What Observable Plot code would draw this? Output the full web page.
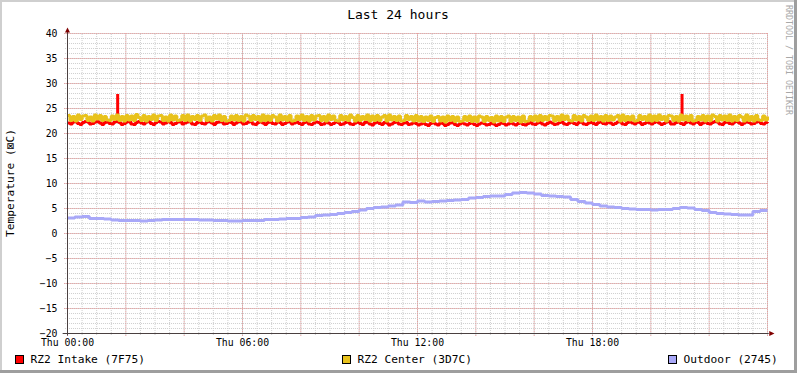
<!DOCTYPE html>
<html><head><meta charset="utf-8">
<script src="https://cdn.jsdelivr.net/npm/d3@7"></script>
<script src="https://cdn.jsdelivr.net/npm/@observablehq/plot@0.6"></script>
<style>
html,body{margin:0;padding:0;background:#fff;}
#wrap{position:relative;width:797px;height:373px;overflow:hidden;background:#fff;}
#wrap svg{position:absolute;left:0;top:0;}
</style></head>
<body><div id="wrap"></div>
<script>
// ---- data ----
const titleText = "Last 24 hours";
const yLabelText = "Temperature (\u22A0C)";
const watermarkText = "RRDTOOL / TOBI OETIKER";
const seriesNames = ["RZ2 Intake (7F75)", "RZ2 Center (3D7C)", "Outdoor (2745)"];
const seriesColors = ["#ff0000", "#e8c21c", "#a8a8f8"];

const xTickHours = [0, 6, 12, 18];
const xTickLabels = ["Thu 00:00", "Thu 06:00", "Thu 12:00", "Thu 18:00"];
const yTickValues = [-20, -15, -10, -5, 0, 5, 10, 15, 20, 25, 30, 35, 40];

// 5-minute samples, hour 0 .. 24
const intakeValues = [
 22.1,21.9,22.3,22.4,22.0,21.8,22.2,22.4,22.3,21.9,22.0,22.3,22.4,22.1,21.8,22.2,22.4,22.0,21.9,22.3,22.4,22.2,21.8,22.0,
 22.3,22.4,21.9,21.8,22.2,22.4,22.1,21.9,22.3,22.5,22.0,21.8,22.2,22.4,22.3,21.9,22.1,22.4,22.2,21.8,22.0,22.3,22.4,21.9,
 22.1,22.3,22.4,21.9,21.8,22.2,22.4,22.0,21.9,22.3,22.4,22.1,21.8,22.2,22.3,22.4,21.9,22.0,22.3,22.2,21.8,22.1,22.4,22.3,
 21.9,22.0,22.3,22.4,21.9,21.8,22.2,22.3,22.1,21.8,22.2,22.4,22.0,21.9,22.3,22.2,21.8,22.0,22.3,22.4,21.9,22.1,22.3,22.0,
 21.8,22.2,22.3,21.9,21.8,22.1,22.3,22.2,21.8,21.9,22.3,22.1,21.8,22.0,22.3,22.2,21.8,21.9,22.2,22.3,21.9,21.8,22.1,22.3,
 22.0,21.8,22.2,22.3,21.9,21.7,22.1,22.3,22.0,21.8,22.2,22.1,21.7,21.9,22.2,22.3,21.9,21.8,22.1,22.2,21.8,21.9,22.2,22.0,
 21.7,21.9,22.1,21.8,21.6,22.0,22.2,21.9,21.7,22.1,22.0,21.6,21.8,22.1,22.2,21.8,21.6,21.9,22.1,21.9,21.7,22.0,22.1,21.8,
 21.6,21.9,22.1,22.0,21.7,21.8,22.1,21.9,21.6,21.8,22.1,22.0,21.7,21.9,22.2,21.9,21.7,22.0,22.1,21.8,21.7,22.0,22.2,21.9,
 21.8,22.1,22.2,21.9,21.7,22.0,22.3,22.1,21.8,21.9,22.2,22.3,21.9,21.8,22.1,22.3,22.0,21.8,22.2,22.3,21.9,21.8,22.1,22.2,
 22.0,21.8,22.2,22.3,22.0,21.9,22.3,22.1,21.8,22.0,22.3,22.4,21.9,21.8,22.2,22.3,22.1,21.9,22.3,22.2,21.8,22.0,22.3,22.1,
 21.9,22.2,22.4,22.1,21.8,22.0,22.3,22.4,21.9,21.9,22.2,22.3,22.0,21.8,22.2,22.4,22.1,21.9,22.3,22.2,21.8,22.1,22.3,22.0,
 21.9,22.2,22.4,22.3,21.9,21.8,22.2,22.3,22.0,21.9,22.3,22.4,22.1,21.8,22.1,22.3,22.2,21.9,22.0,22.3,22.4,22.0,21.9,22.2,
 22.3
];
const centerValues = [
 23.6,22.6,23.4,22.5,23.7,22.8,23.5,23.6,22.6,23.3,22.5,23.7,22.9,23.6,22.6,23.4,22.7,22.6,23.5,22.8,23.7,22.6,23.4,22.5,
 23.6,22.7,23.5,22.6,23.8,23.2,22.6,23.6,22.5,23.4,22.8,23.7,22.6,23.5,23.6,22.6,23.3,22.5,23.7,22.7,23.5,22.6,22.7,23.6,
 22.6,23.7,22.5,23.4,22.8,23.6,22.6,23.5,23.7,22.6,23.3,22.5,23.6,22.9,23.7,22.6,23.4,22.5,22.6,23.5,22.7,23.6,22.6,23.4,
 22.5,23.7,23.5,22.6,23.6,22.8,23.4,22.5,23.7,22.6,23.5,22.6,23.6,23.3,22.5,23.7,22.7,23.4,22.6,23.6,22.5,22.6,23.5,22.8,
 23.7,22.6,23.4,22.5,23.6,22.7,23.5,23.6,22.6,23.4,22.5,23.7,22.8,23.5,22.6,22.5,23.6,22.7,23.4,22.6,23.7,23.2,22.5,23.6,
 22.6,23.4,22.8,23.7,22.5,23.5,22.6,23.6,22.6,23.3,23.6,22.5,23.7,22.7,23.4,22.6,23.5,22.5,22.6,23.6,22.8,23.4,22.5,23.6,
 22.5,23.4,22.4,23.3,22.6,23.5,22.4,23.2,23.4,22.5,23.3,22.3,23.5,22.6,23.4,22.4,23.3,22.4,22.5,23.4,22.6,23.5,22.4,23.3,
 22.4,23.5,23.3,22.4,23.4,22.6,23.2,22.3,23.5,22.5,23.4,22.4,23.3,23.5,22.4,23.4,22.6,23.3,22.3,23.5,22.4,22.5,23.4,22.6,
 23.5,22.5,23.6,22.6,23.4,22.7,23.6,23.5,22.5,23.4,22.6,23.7,22.8,23.5,22.6,22.5,23.6,22.7,23.4,22.5,23.6,23.3,22.6,23.5,
 22.6,23.7,22.7,23.4,22.5,23.6,22.6,23.5,22.7,23.3,23.6,22.5,23.7,22.6,23.4,22.7,23.5,22.5,22.6,23.6,22.8,23.4,22.6,23.7,
 22.5,23.5,22.6,23.7,22.8,23.4,22.5,23.6,23.5,22.6,23.4,22.5,23.7,22.7,23.5,22.6,23.6,22.5,22.6,23.4,22.7,23.6,22.5,23.5,
 22.6,23.7,23.4,22.5,23.6,22.7,23.5,22.6,23.7,22.5,23.4,22.6,23.6,23.3,22.5,23.7,22.6,23.4,22.5,23.6,22.7,22.6,23.5,22.7,
 23.4
];
const intakeSpikeHours = [1.72, 21.07];
const intakeSpikePeaks = [27.8, 27.8];
const intakeSpikeBase = [22.6, 22.6];

// 15-minute samples, hour 0 .. 24
const outdoorValues = [
 3.1, 3.3, 3.4, 3.0, 3.0, 2.9, 2.7, 2.6, 2.6, 2.6, 2.5, 2.6,
 2.7, 2.8, 2.8, 2.8, 2.8, 2.8, 2.7, 2.7, 2.6, 2.6, 2.5, 2.5,
 2.6, 2.6, 2.6, 2.8, 2.8, 2.9, 3.0, 3.0, 3.2, 3.3, 3.6, 3.7,
 3.8, 4.0, 4.2, 4.4, 4.7, 5.0, 5.2, 5.3, 5.5, 5.7, 6.3, 6.2,
 6.5, 6.3, 6.4, 6.5, 6.6, 6.7, 6.8, 7.1, 7.2, 7.4, 7.5, 7.5,
 7.8, 8.1, 8.2, 8.1, 7.9, 7.6, 7.5, 7.4, 7.3, 6.8, 6.4, 6.1,
 5.8, 5.5, 5.3, 5.2, 5.0, 4.9, 4.8, 4.8, 4.7, 4.8, 4.8, 5.0,
 5.2, 5.1, 4.8, 4.6, 4.2, 4.0, 3.9, 3.8, 3.7, 3.7, 4.4, 4.6, 4.6
];

// ---- build tables ----
const fineStep = 24 / (intakeValues.length - 1);
const outStep = 24 / (outdoorValues.length - 1);
const intakeData = intakeValues.map((v, i) => ({h: i * fineStep, v}));
const centerData = centerValues.map((v, i) => ({h: i * fineStep, v}));
const outdoorData = outdoorValues.map((v, i) => ({h: i * outStep, v}));
const spikeData = intakeSpikeHours.map((h, i) => ({h, base: intakeSpikeBase[i], peak: intakeSpikePeaks[i]}));

const minorX = d3.range(0, 24.01, 0.5);
const majorX = d3.range(0, 24.01, 2);
const minorY = d3.range(-20, 40.01, 1);
const majorY = yTickValues;

const arrowUp = {draw(c, size) { const r = Math.sqrt(size / Math.PI); c.moveTo(0, -r); c.lineTo(r * 0.95, r); c.lineTo(-r * 0.95, r); c.closePath(); }};
const arrowRight = {draw(c, size) { const r = Math.sqrt(size / Math.PI); c.moveTo(r, 0); c.lineTo(-r, r * 0.95); c.lineTo(-r, -r * 0.95); c.closePath(); }};

const minorStyle = {stroke: "#cfcfcf", strokeDasharray: "1,1"};
const majorStyle = {stroke: "#eaa0a0", strokeDasharray: "1,1"};
const lineStyle = {x: "h", y: "v", curve: "step-after", strokeWidth: 3, strokeLinejoin: "miter", strokeLinecap: "butt"};

const chart = Plot.plot({
  width: 797, height: 373,
  marginLeft: 67, marginRight: 30, marginTop: 33, marginBottom: 40,
  x: {domain: [0, 24], axis: null},
  y: {domain: [-20, 40], axis: null},
  style: {background: "transparent", fontFamily: "'DejaVu Sans Mono', monospace", fontSize: "9.8px", color: "#000"},
  marks: [
    Plot.ruleY(minorY, {x1: -0.07, x2: 24.03, ...minorStyle}),
    Plot.ruleX(minorX, {y1: -20.4, y2: 40, ...minorStyle}),
    Plot.ruleY(majorY, {x1: -0.1, x2: 24.03, ...majorStyle}),
    Plot.ruleX(majorX, {y1: -20.6, y2: 40, ...majorStyle}),
    Plot.line(intakeData, {...lineStyle, stroke: seriesColors[0]}),
    Plot.ruleX(spikeData, {x: "h", y1: "base", y2: "peak", stroke: seriesColors[0], strokeWidth: 3}),
    Plot.line(centerData, {...lineStyle, stroke: seriesColors[1]}),
    Plot.line(outdoorData, {...lineStyle, stroke: seriesColors[2]}),
    Plot.ruleX([0], {y1: -20.5, y2: 40.6, stroke: "#4a4040"}),
    Plot.ruleY([-20], {x1: -0.15, x2: 24.06, stroke: "#4a4040"}),
    Plot.dot([{h: 0, v: 40.7}], {x: "h", y: "v", symbol: arrowUp, r: 2.6, fill: "#800000", stroke: null}),
    Plot.dot([{h: 24.15, v: -20}], {x: "h", y: "v", symbol: arrowRight, r: 2.6, fill: "#800000", stroke: null}),
    Plot.axisY(majorY, {tickSize: 0, tickPadding: 10, fontSize: 9.8, fill: "#000", label: null}),
    Plot.axisX(xTickHours, {tickSize: 0, tickPadding: 6, fontSize: 9.8, fill: "#000", label: null, tickFormat: (d, i) => xTickLabels[i]})
  ]
});
const wrap = document.getElementById("wrap");
wrap.appendChild(chart);

// ---- overlay: title, y label, legend, watermark, frame shading ----
const ov = d3.select(wrap).append("svg").attr("width", 797).attr("height", 373)
  .style("font-family", "'DejaVu Sans Mono', monospace");
ov.append("text").attr("x", 398).attr("y", 18.5).attr("text-anchor", "middle")
  .attr("font-size", 13).attr("fill", "#000").text(titleText);
ov.append("text").attr("transform", "translate(14,183) rotate(-90)").attr("text-anchor", "middle")
  .attr("font-size", 11.2).attr("fill", "#000").text(yLabelText);
ov.append("text").attr("transform", "translate(785.5,5) rotate(90)").attr("text-anchor", "start")
  .attr("font-size", 8.3).attr("fill", "#a8a8a8").text(watermarkText);
const legendBoxX = [15.5, 342.5, 668.5];
seriesNames.forEach((name, i) => {
  ov.append("rect").attr("x", legendBoxX[i]).attr("y", 355.5).attr("width", 8).attr("height", 8)
    .attr("fill", seriesColors[i]).attr("stroke", "#000");
  ov.append("text").attr("x", legendBoxX[i] + 15).attr("y", 363).attr("font-size", 11.2)
    .attr("fill", "#000").text(name);
});
ov.append("rect").attr("x", 0).attr("y", 0).attr("width", 797).attr("height", 2).attr("fill", "#cfcfcf");
ov.append("rect").attr("x", 0).attr("y", 0).attr("width", 2).attr("height", 373).attr("fill", "#cfcfcf");
ov.append("rect").attr("x", 794).attr("y", 0).attr("width", 3).attr("height", 373).attr("fill", "#9e9e9e");
ov.append("rect").attr("x", 0).attr("y", 370).attr("width", 797).attr("height", 3).attr("fill", "#9e9e9e");
</script>
</body></html>
